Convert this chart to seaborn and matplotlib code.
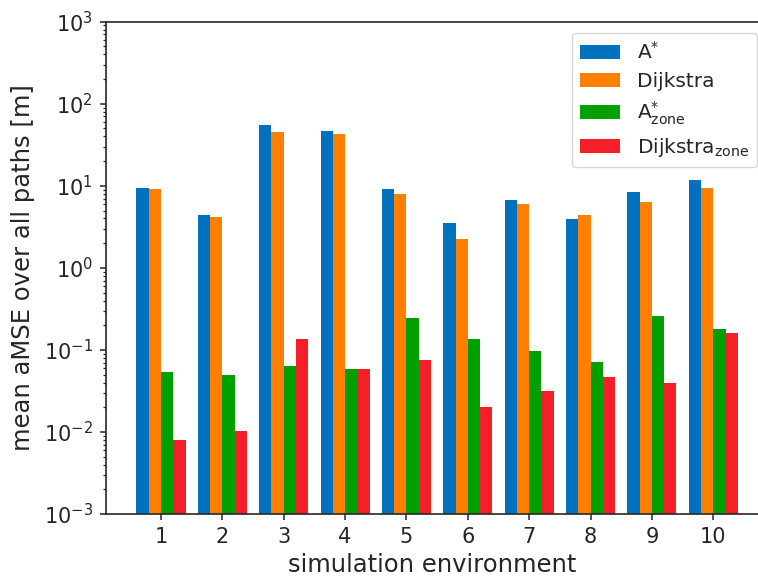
import numpy as np
import pandas as pd
import seaborn as sns
import matplotlib
matplotlib.use("Agg")
import matplotlib.pyplot as plt

envs = ["1", "2", "3", "4", "5", "6", "7", "8", "9", "10"]
astar = [9.46, 4.43, 54.6, 46.0, 9.19, 3.54, 6.64, 3.93, 8.38, 11.8]
dijkstra = [9.1, 4.12, 44.8, 42.4, 7.98, 2.24, 5.93, 4.35, 6.28, 9.37]
astar_zone = [0.0534, 0.0491, 0.0632, 0.058, 0.245, 0.136, 0.0964, 0.0721, 0.258, 0.179]
dijkstra_zone = [0.00798, 0.0104, 0.134, 0.058, 0.0755, 0.0202, 0.0313, 0.0469, 0.040, 0.163]

labels = [r"A$^{*}$", "Dijkstra", r"A$^{*}_{\mathrm{zone}}$", r"Dijkstra$_{\mathrm{zone}}$"]
colors = ["#0072BD", "#FF8000", "#00A000", "#F41F27"]

df = pd.DataFrame({
    "env": envs * 4,
    "value": astar + dijkstra + astar_zone + dijkstra_zone,
    "method": np.repeat(labels, len(envs)),
})

sns.set_style("ticks")
plt.rcParams["font.family"] = ["DejaVu Sans"]

fig = plt.figure(figsize=(7.58, 5.76), dpi=100)
# right edge of the original figure is cropped, so the axes run to the border
ax = fig.add_axes([0.1398, 0.1076, 1 - 0.1398, 0.9623 - 0.1076])

sns.barplot(data=df, x="env", y="value", hue="method", hue_order=labels,
            palette=colors, saturation=1, width=0.8, errorbar=None,
            linewidth=0, ax=ax)
ax.set_yscale("log")

ax.set_ylim(1e-3, 1e3)
ax.set_xlim(-0.896, 9.728)
ax.spines["right"].set_visible(False)
for s in ax.spines.values():
    s.set_linewidth(1.2)
ax.set_xlabel("simulation environment", fontsize=17.5, labelpad=4)
ax.set_ylabel("mean aMSE over all paths [m]", fontsize=17.5, labelpad=6)
ax.tick_params(which="major", labelsize=15, length=4.5, width=1.1, pad=5)
ax.tick_params(which="minor", length=2.5, width=0.9)

ax.legend(loc="upper right", bbox_to_anchor=(0.9987, 0.9432),
          bbox_transform=fig.transFigure, borderaxespad=0,
          fontsize=14.5, frameon=True, fancybox=True, labelspacing=0.45)

fig.savefig("out.png", dpi=100)
